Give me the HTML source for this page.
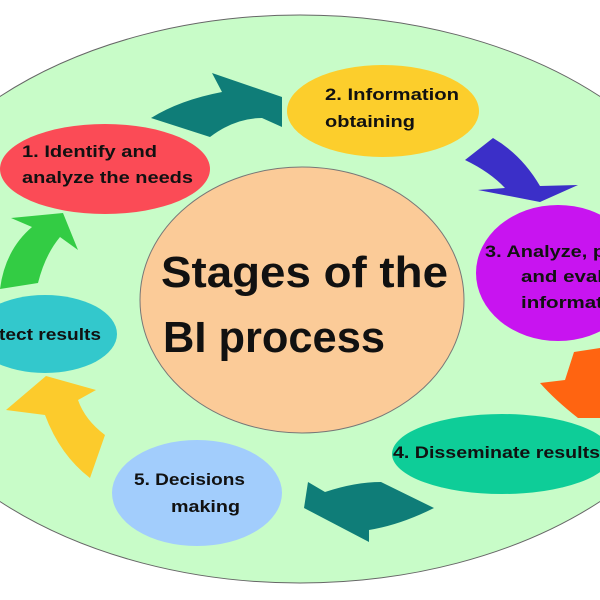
<!DOCTYPE html>
<html><head><style>
body{margin:0;background:#fff}
svg{display:block}
text{font-family:"Liberation Sans",sans-serif;font-weight:bold;fill:#111}
</style></head><body>
<svg width="600" height="600" viewBox="0 0 600 600">
<ellipse cx="300" cy="299" rx="428" ry="284" fill="#c8fcc8" stroke="#666" stroke-width="1"/>
<ellipse cx="302" cy="300" rx="162" ry="133" fill="#fbcb98" stroke="#777" stroke-width="1"/>
<text x="161" y="287" font-size="44" textLength="287" lengthAdjust="spacingAndGlyphs">Stages of the</text>
<text x="163" y="352" font-size="44" textLength="222" lengthAdjust="spacingAndGlyphs">BI process</text>

<!-- arrows -->
<path d="M151,118 Q180,100 222,92 L212,73 L282,97 L282,127 L262,118 Q235,118 210,137 Z" fill="#0f7d78"/>
<path d="M465,160 L493,138 Q522,155 540,186 L578,185 L540,202 L478,190 L505,188 Q490,172 465,160 Z" fill="#3b2fc8"/>
<path d="M574,352 L600,348 L600,418 L578,418 Q555,400 540,383 L565,380 Z" fill="#ff6411"/>
<path d="M434,508 Q400,525 369,530 L369,542 L304,508 L308,482 L325,492 Q355,482 381,482 Z" fill="#0f7d78"/>
<path d="M90,478 Q60,455 45,415 L6,410 L46,376 L96,390 L78,400 Q85,420 105,435 Z" fill="#fccb2c"/>
<path d="M0,289 Q5,250 32,227 L11,218 L63,213 L78,250 L60,237 Q45,255 38,283 Z" fill="#33cc44"/>

<!-- nodes -->
<ellipse cx="105" cy="169" rx="105" ry="45" fill="#fb4b56"/>
<text x="22" y="157" font-size="17" textLength="135" lengthAdjust="spacingAndGlyphs">1. Identify and</text>
<text x="22" y="183" font-size="17" textLength="171" lengthAdjust="spacingAndGlyphs">analyze the needs</text>

<ellipse cx="383" cy="111" rx="96" ry="46" fill="#fcce2c"/>
<text x="325" y="100" font-size="17" textLength="134" lengthAdjust="spacingAndGlyphs">2. Information</text>
<text x="325" y="127" font-size="17" textLength="90" lengthAdjust="spacingAndGlyphs">obtaining</text>

<ellipse cx="558" cy="273" rx="82" ry="68" fill="#c814f0"/>
<text x="485" y="257" font-size="17" textLength="120" lengthAdjust="spacingAndGlyphs">3. Analyze, p</text>
<text x="521" y="282" font-size="17" textLength="82" lengthAdjust="spacingAndGlyphs">and eval</text>
<text x="521" y="308" font-size="17" textLength="82" lengthAdjust="spacingAndGlyphs">informat</text>

<ellipse cx="502" cy="454" rx="110" ry="40" fill="#0ecd98"/>
<text x="393" y="458" font-size="17" textLength="207" lengthAdjust="spacingAndGlyphs">4. Disseminate results</text>

<ellipse cx="197" cy="493" rx="85" ry="53" fill="#a2cdfc"/>
<text x="134" y="485" font-size="17" textLength="111" lengthAdjust="spacingAndGlyphs">5. Decisions</text>
<text x="171" y="512" font-size="17" textLength="69" lengthAdjust="spacingAndGlyphs">making</text>

<ellipse cx="45" cy="334" rx="72" ry="39" fill="#33c8cc"/>
<text x="-1" y="340" font-size="17" textLength="102" lengthAdjust="spacingAndGlyphs">tect results</text>
</svg>
</body></html>
